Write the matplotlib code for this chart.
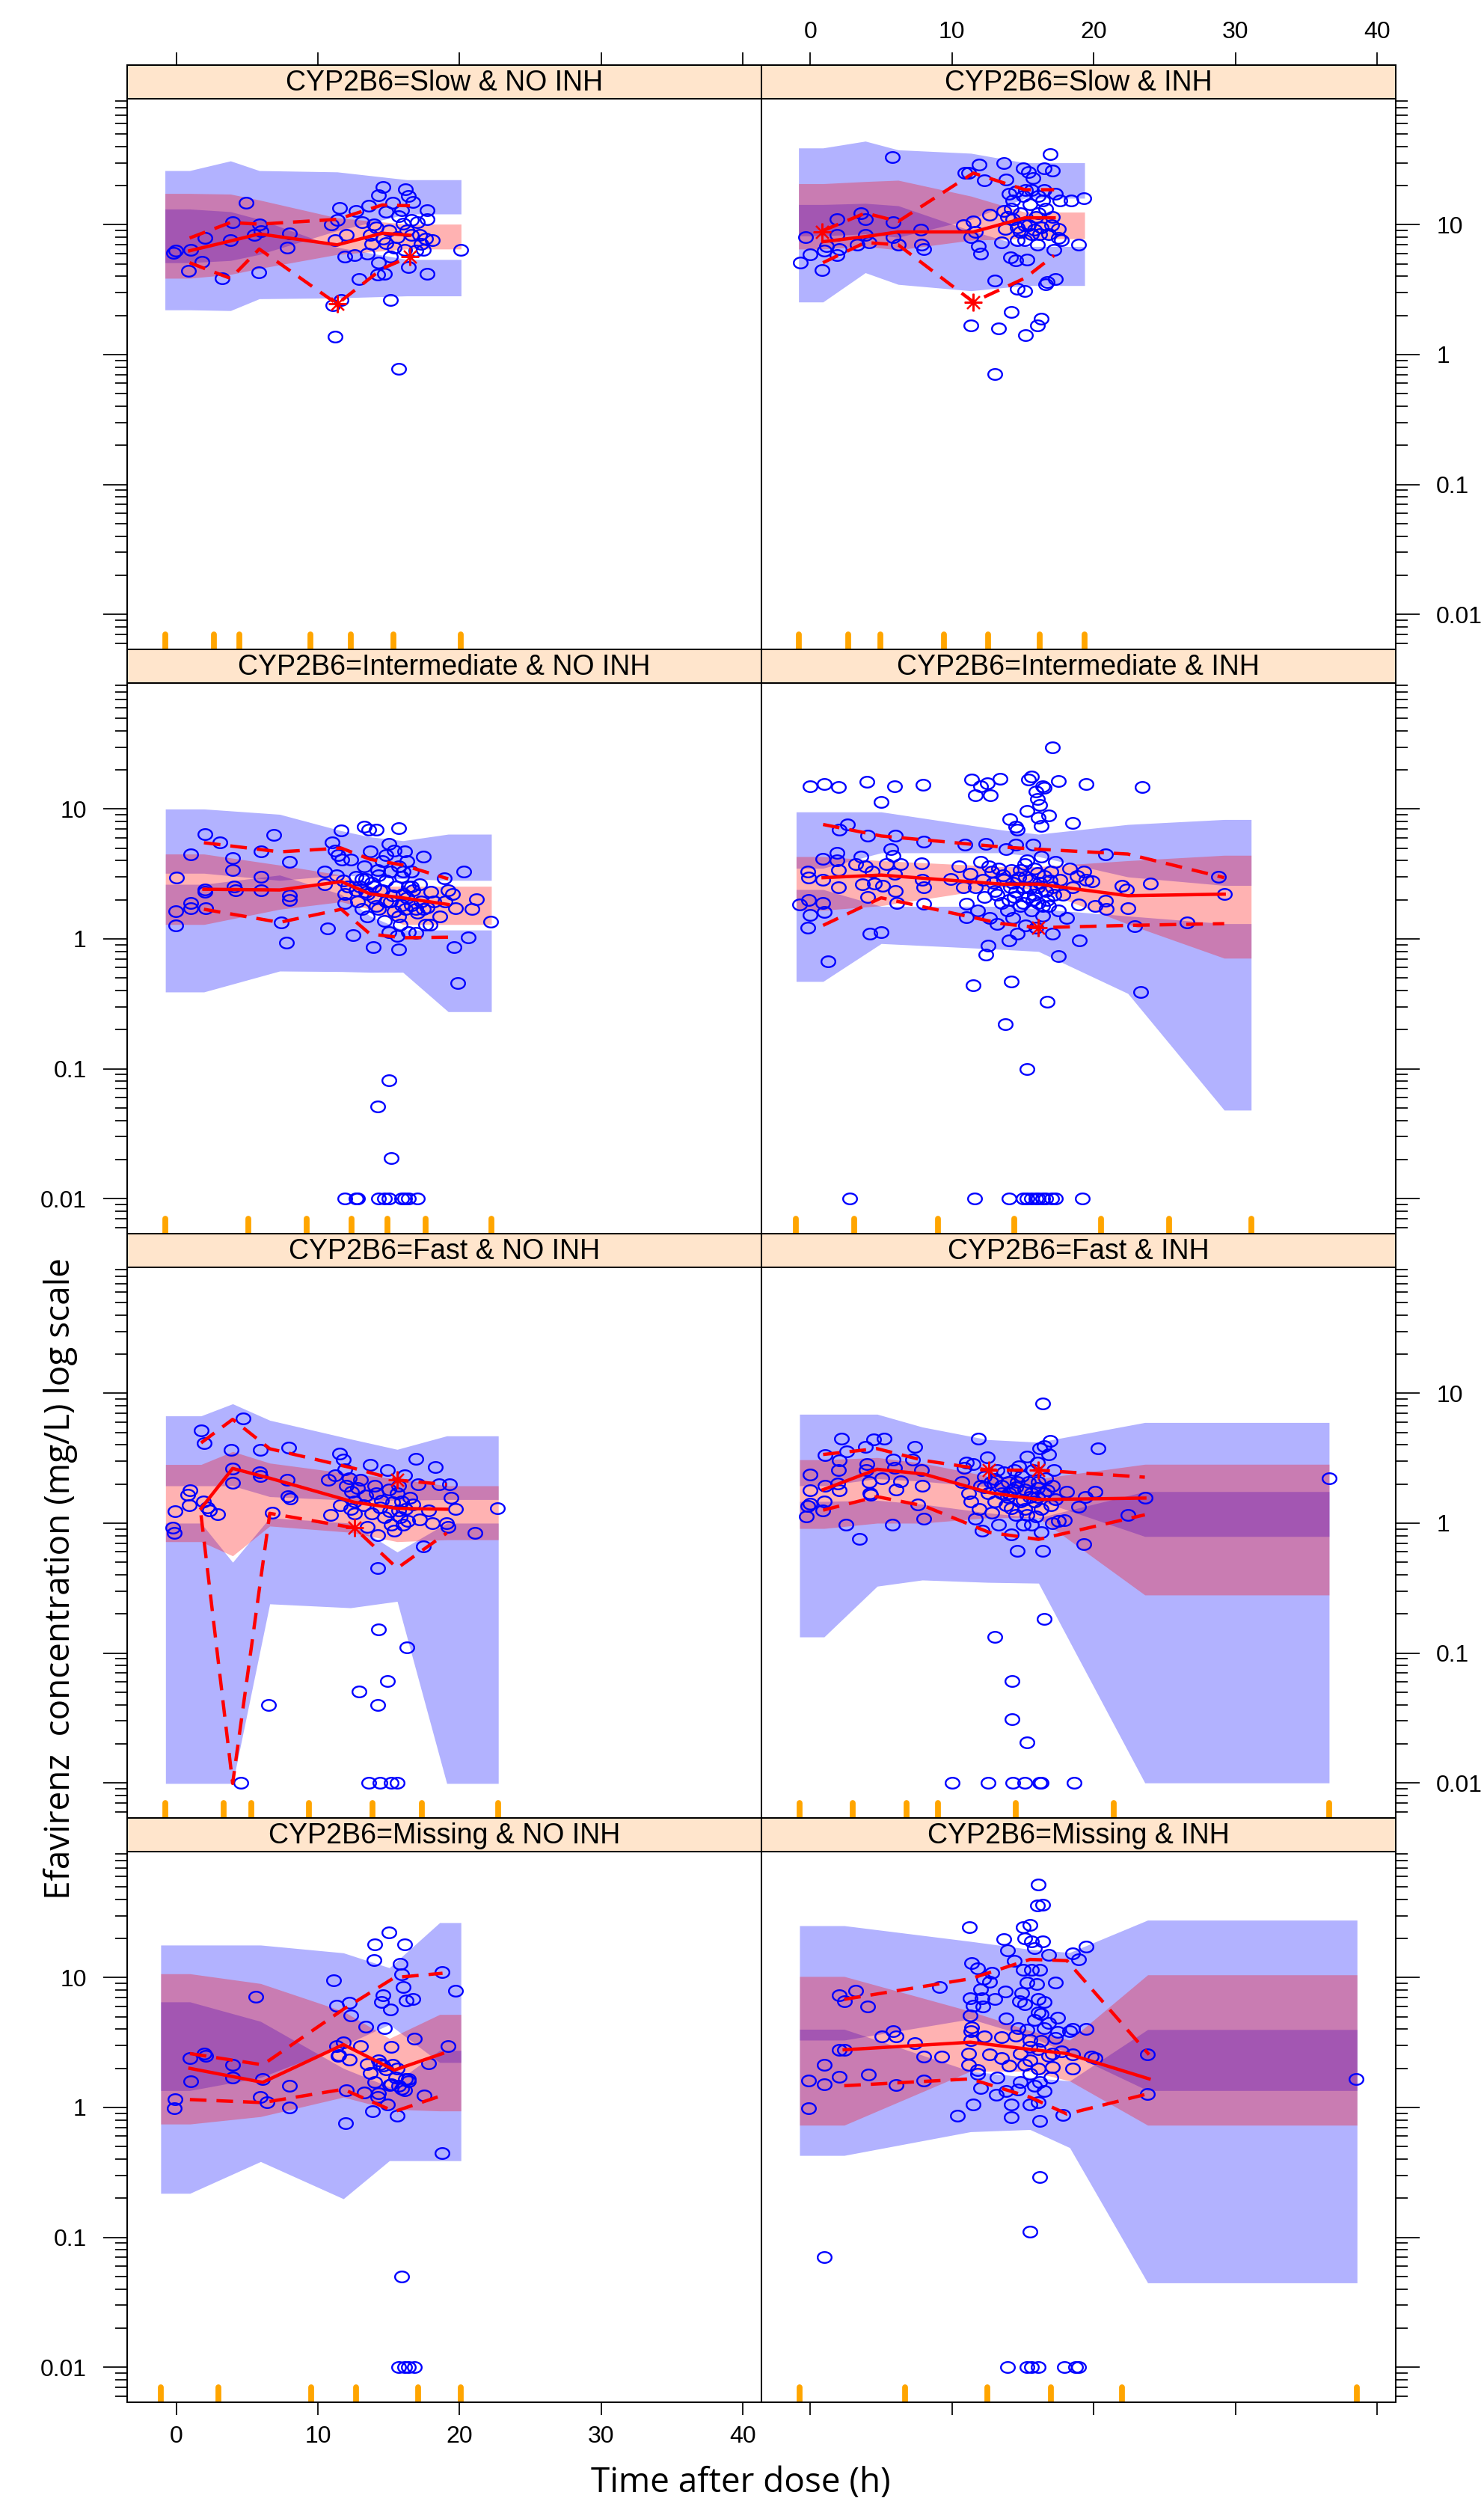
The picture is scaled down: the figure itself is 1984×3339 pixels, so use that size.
import numpy as np
import matplotlib.pyplot as plt
from matplotlib.path import Path
from matplotlib.ticker import FixedLocator, FixedFormatter, LogLocator, NullFormatter

plt.rcParams['font.family'] = ['Liberation Sans', 'DejaVu Sans']

# ---------------- data (time h, concentration mg/L) ----------------
titles = ['CYP2B6=Slow & NO INH', 'CYP2B6=Slow & INH',
          'CYP2B6=Intermediate & NO INH', 'CYP2B6=Intermediate & INH',
          'CYP2B6=Fast & NO INH', 'CYP2B6=Fast & INH',
          'CYP2B6=Missing & NO INH', 'CYP2B6=Missing & INH']

x_ticks = [0, 10, 20, 30, 40]
y_ticks = [0.01, 0.1, 1, 10]
y_labels = ['0.01', '0.1', '1', '10']

# --- Slow & NO INH
s0_obs = [(-0.22, 6.07), (-0.02, 6.28), (1.0, 6.37), (0.88, 4.43), (1.81, 5.2), (2.01, 7.9), (3.26, 3.86),
          (3.98, 10.4), (3.83, 7.6), (4.93, 14.8), (5.51, 8.4), (5.86, 10.1), (6.0, 8.9), (5.8, 4.3), (7.83, 6.7),
          (7.97, 8.6), (10.93, 10.1), (11.07, 2.4), (11.22, 1.38), (11.22, 7.6), (11.36, 10.9), (11.51, 13.5),
          (11.65, 2.63), (11.88, 5.7), (12.0, 8.4), (12.6, 5.8), (12.7, 12.8), (12.9, 3.8), (13.1, 10.4),
          (13.5, 6.0), (13.6, 14.0), (13.7, 8.3), (13.8, 7.1), (13.97, 10.1), (14.1, 9.5), (14.2, 4.14),
          (14.3, 16.8), (14.3, 5.1), (14.6, 19.4), (14.6, 7.8), (14.7, 4.2), (14.8, 12.6), (14.8, 7.2), (15.0, 9.0),
          (15.1, 2.63), (15.1, 5.7), (15.3, 14.7), (15.4, 6.7), (15.6, 8.0), (15.7, 11.7), (15.9, 13.0),
          (16.0, 10.2), (16.1, 6.4), (16.2, 18.8), (16.3, 9.0), (16.4, 16.6), (16.4, 4.7), (16.6, 10.9),
          (16.6, 8.3), (16.7, 15.0), (16.9, 6.3), (17.0, 10.4), (17.2, 8.3), (17.3, 7.1), (17.45, 6.4),
          (17.6, 7.8), (17.7, 11.1), (17.7, 13.0), (17.7, 4.2), (18.1, 7.6), (20.1, 6.4), (15.7, 0.78)]
s0_bins = [-0.8, 2.65, 4.47, 9.48, 12.32, 15.36, 20.11]
s0_bx = [-0.8, 0.94, 3.83, 5.86, 11.36, 16.29, 20.11]
s0_hi_up = [26.1, 26.1, 31, 26.1, 25.5, 22.2, 22.2]
s0_hi_lo = [5.1, 5.1, 5.3, 5.9, 9.0, 12.1, 12.1]
s0_md_up = [17.4, 17.4, 17.2, 15.5, 11.3, 10.1, 10.1]
s0_md_lo = [3.87, 3.87, 4.14, 4.6, 5.9, 6.5, 6.5]
s0_lo_up = [13.2, 13.2, 12.6, 11.0, 6.7, 5.4, 5.4]
s0_lo_lo = [2.21, 2.21, 2.18, 2.69, 2.73, 2.83, 2.83]
s0_ox = [0.94, 3.83, 5.86, 11.36, 14.55, 16.5]
s0_p50 = [6.3, 7.5, 8.5, 7.0, 8.6, 8.3]
s0_p95 = [7.9, 10.4, 10.1, 11.0, 14.2, 14.0]
s0_p05 = [5.1, 3.86, 6.5, 2.45, 4.6, 5.66]
s0_stars = [(11.36, 2.45), (16.5, 5.66)]

# --- Slow & INH
s1_obs = [(-0.7, 5.1), (-0.33, 8.0), (-0.03, 5.9), (0.83, 4.5), (0.99, 6.3), (1.16, 6.8), (1.89, 11.0),
          (1.89, 8.4), (1.89, 5.8), (2.05, 6.5), (3.28, 7.0), (3.55, 12.3), (3.88, 11.0), (3.88, 8.4), (4.14, 7.3),
          (5.8, 33), (5.86, 10.5), (5.86, 8.0), (6.2, 7.0), (7.8, 9.1), (7.85, 7.0), (8.0, 6.5), (10.8, 9.9),
          (10.9, 25), (11.17, 25), (11.33, 1.67), (11.33, 8.0), (11.5, 10.6), (11.66, 8.8), (11.83, 6.8),
          (11.9, 29), (12.0, 6.0), (12.26, 22), (12.66, 11.9), (13.0, 3.7), (13.3, 1.58), (13.5, 7.3),
          (13.65, 30), (13.65, 12.8), (13.75, 9.3), (13.8, 22.4), (14.0, 17.2), (14.1, 5.6), (14.2, 2.14),
          (14.3, 15.4), (14.5, 5.3), (14.5, 17.9), (14.6, 7.6), (14.6, 3.2), (14.8, 12.3), (15.0, 27), (15.1, 3.1),
          (15.1, 9.9), (15.2, 18.6), (15.2, 1.42), (15.3, 5.4), (15.4, 25.6), (15.5, 14.3), (15.6, 8.5),
          (15.7, 23), (15.9, 11.4), (16.0, 7.0), (16.0, 1.67), (16.1, 16.6), (16.3, 1.9), (16.3, 9.5),
          (16.5, 18.6), (16.5, 27), (16.6, 3.5), (16.6, 13.3), (16.7, 3.6), (16.8, 8.5), (16.9, 35), (17.1, 26),
          (17.1, 11.4), (17.2, 6.4), (17.3, 17.2), (17.3, 3.8), (17.5, 7.9), (17.6, 15.4), (17.7, 7.6),
          (18.4, 15.4), (18.9, 7.0), (19.3, 15.9), (13.0, 0.71), (14.15, 13.3), (15.0, 16.6), (15.6, 18.6),
          (16.1, 12.3), (16.4, 15.4), (14.6, 9.5), (15.4, 9.9), (15.8, 9.1), (16.2, 8.5), (17.0, 9.9),
          (17.5, 9.3), (13.9, 11.4), (14.3, 11.0), (14.8, 8.8), (15.1, 7.6)]
s1_bins = [-0.83, 2.65, 4.94, 9.44, 12.56, 16.2, 19.35]
s1_bx = [-0.83, 0.89, 3.88, 6.2, 11.33, 15.14, 19.35]
s1_hi_up = [39, 39, 44, 37.7, 35.5, 30, 30]
s1_hi_lo = [8.2, 8.2, 8.5, 8.0, 11, 16, 16]
s1_md_up = [20.7, 20.7, 21.5, 22, 16.6, 12.5, 12.5]
s1_md_lo = [6.5, 6.5, 6.8, 6.4, 7.6, 7.8, 7.8]
s1_lo_up = [14.3, 14.3, 14.6, 14, 9, 6.8, 6.8]
s1_lo_lo = [2.54, 2.54, 4.27, 3.47, 3.1, 3.4, 3.4]
s1_ox = [0.89, 3.88, 6.2, 11.5, 15.14, 17.2]
s1_p50 = [7.4, 8.1, 8.8, 8.8, 11.3, 11.3]
s1_p95 = [9.0, 12.3, 10.6, 25, 18.6, 18.6]
s1_p05 = [5.1, 7.3, 7.0, 2.54, 3.88, 5.8]
s1_stars = [(0.85, 8.8), (11.5, 2.54)]

# --- Intermediate & NO INH
i0_obs = [(0.01, 2.95), (-0.02, 1.64), (-0.02, 1.27), (1.03, 4.5), (1.03, 1.88), (1.03, 1.72), (2.04, 6.4),
          (2.04, 2.41), (2.04, 2.3), (2.1, 1.73), (3.1, 5.5), (4.0, 4.2), (4.0, 3.4), (4.1, 2.54), (4.2, 2.38),
          (6.0, 4.7), (6.0, 3.0), (6.0, 2.38), (6.9, 6.3), (7.4, 1.34), (7.8, 0.94), (7.97, 3.9), (7.97, 2.15),
          (7.97, 2.0), (10.5, 3.3), (10.5, 2.63), (10.7, 1.21), (11.0, 5.5), (11.2, 4.8), (11.3, 3.1), (11.4, 4.4),
          (11.65, 6.8), (11.7, 4.1), (11.8, 2.82), (11.9, 2.22), (11.9, 1.88), (12.1, 2.54), (12.3, 4.1),
          (12.5, 1.07), (12.7, 3.0), (12.8, 1.94), (12.96, 2.54), (13.1, 1.69), (13.25, 7.3), (13.3, 3.6),
          (13.4, 2.3), (13.5, 1.48), (13.6, 6.9), (13.7, 4.7), (13.8, 2.72), (13.9, 0.86), (13.97, 2.07),
          (14.1, 6.9), (14.2, 3.4), (14.3, 1.69), (14.3, 3.1), (14.4, 2.38), (14.55, 3.95), (14.7, 1.38),
          (14.8, 1.94), (14.8, 2.82), (15.0, 1.13), (15.0, 5.4), (15.1, 3.3), (15.3, 2.15), (15.4, 4.8),
          (15.4, 1.64), (15.5, 2.54), (15.6, 1.05), (15.7, 3.6), (15.7, 7.1), (15.7, 0.83), (15.8, 1.29),
          (15.9, 1.81), (15.9, 3.0), (16.0, 2.22), (16.1, 4.7), (16.2, 1.69), (16.3, 3.95), (16.4, 2.54),
          (16.4, 1.13), (16.6, 3.3), (16.6, 1.81), (16.7, 2.38), (16.9, 1.11), (17.0, 1.58), (17.2, 2.63),
          (17.3, 1.94), (17.45, 4.3), (17.6, 1.29), (17.7, 1.75), (17.9, 1.29), (18.0, 2.3), (18.2, 1.94),
          (18.6, 1.48), (18.9, 2.91), (19.0, 1.94), (19.2, 2.38), (19.5, 2.22), (19.6, 0.86), (19.7, 1.72),
          (19.85, 0.46), (20.3, 3.3), (20.6, 1.03), (20.9, 1.69), (21.2, 2.03), (22.2, 1.36),
          (13.4, 2.9), (13.97, 2.54), (14.55, 2.38), (15.1, 1.94), (16.3, 2.07), (16.9, 1.69), (14.1, 1.8),
          (14.8, 4.4), (13.5, 2.22), (16.6, 2.54), (15.7, 1.48), (17.45, 1.69), (12.7, 2.38), (13.1, 2.9),
          (16.0, 3.3), (15.0, 0.081), (14.2, 0.051), (15.2, 0.0204),
          (11.9, 0.01), (12.7, 0.01), (12.8, 0.01), (14.3, 0.01), (14.7, 0.01), (15.0, 0.01), (15.9, 0.01),
          (16.1, 0.01), (16.4, 0.01), (17.0, 0.01)]
i0_bins = [-0.77, 5.08, 9.22, 12.38, 14.9, 17.6, 22.25]
i0_bx = [-0.77, 1.95, 7.3, 11.65, 13.68, 16.0, 19.2, 22.25]
i0_hi_up = [10, 10, 9.1, 6.8, 6.1, 5.7, 6.4, 6.4]
i0_hi_lo = [3.2, 3.2, 2.82, 3.1, 3.0, 2.9, 2.82, 2.82]
i0_md_up = [4.5, 4.5, 3.7, 3.1, 2.54, 2.54, 2.54, 2.54]
i0_md_lo = [1.29, 1.29, 1.69, 1.93, 1.69, 1.29, 1.29, 1.29]
i0_lo_up = [2.63, 2.63, 3.1, 2.2, 1.5, 1.17, 1.17, 1.17]
i0_lo_lo = [0.39, 0.39, 0.565, 0.56, 0.553, 0.553, 0.275, 0.275]
i0_ox = [1.95, 7.3, 11.65, 13.68, 16.0, 19.2]
i0_p50 = [2.41, 2.38, 2.76, 2.22, 2.07, 1.84]
i0_p95 = [5.5, 4.68, 5.0, 4.1, 3.7, 2.9]
i0_p05 = [1.69, 1.34, 1.69, 1.09, 1.02, 1.03]
i0_stars = []

# --- Intermediate & INH
i1_obs = [(-0.03, 15.0), (0.99, 15.5), (1.99, 14.7), (3.98, 16.1), (5.96, 15.0), (7.95, 15.3), (4.97, 11.3),
          (11.4, 16.8), (11.66, 12.8), (12.0, 15.0), (12.5, 15.7), (12.7, 12.8), (13.4, 17.0), (15.4, 16.8),
          (15.6, 17.8), (15.9, 13.6), (16.0, 12.0), (16.2, 10.7), (16.4, 15.0), (16.5, 14.5), (16.8, 8.9),
          (16.1, 8.6), (17.5, 16.4), (19.45, 15.6), (23.4, 14.8), (17.1, 30), (15.3, 9.7), (14.05, 8.3),
          (18.5, 7.8), (2.6, 7.6), (14.6, 6.9), (14.5, 7.3), (16.3, 7.4),
          (-0.76, 1.84), (-0.17, 3.3), (-0.1, 2.96), (-0.1, 2.0), (-0.17, 1.22), (-0.03, 1.53), (0.89, 4.15),
          (0.89, 2.86), (0.89, 1.88), (0.99, 1.61), (1.23, 0.67), (1.89, 4.6), (1.89, 4.0), (1.99, 3.4),
          (1.99, 2.5), (2.05, 6.9), (3.2, 3.75), (3.55, 4.3), (3.7, 2.64), (3.9, 3.6), (4.04, 6.2), (4.04, 2.1),
          (4.2, 1.09), (4.37, 3.3), (4.5, 2.67), (5.0, 1.13), (5.1, 2.58), (5.37, 3.75), (5.7, 4.9),
          (5.86, 4.35), (5.93, 3.16), (6.0, 6.2), (6.0, 2.33), (6.1, 1.9), (6.36, 3.75), (7.85, 3.8), (7.9, 2.86),
          (8.0, 5.6), (8.0, 2.5), (8.0, 1.87), (9.9, 2.9), (10.5, 3.6), (10.8, 2.5), (10.9, 5.3), (11.0, 1.87),
          (11.0, 1.47), (11.3, 3.16), (11.5, 0.44), (11.66, 2.5), (11.8, 1.66), (12.0, 3.9), (12.16, 2.86),
          (12.3, 2.1), (12.36, 0.76), (12.4, 5.4), (12.56, 0.89), (12.66, 1.45), (12.8, 3.3), (13.0, 2.33),
          (13.15, 1.31), (13.3, 3.5), (13.5, 1.9), (13.65, 2.86), (13.75, 0.22), (13.8, 4.9), (13.9, 1.66),
          (14.0, 0.97), (14.1, 2.5), (14.15, 3.4), (14.2, 0.47), (14.3, 1.45), (14.4, 2.1), (14.5, 5.3),
          (14.6, 1.1), (14.7, 2.96), (14.8, 1.78), (15.0, 2.5), (15.1, 3.75), (15.2, 1.27), (15.3, 0.10),
          (15.4, 2.1), (15.5, 2.86), (15.6, 1.66), (15.7, 5.3), (15.8, 3.5), (15.9, 1.22), (16.0, 2.5),
          (16.1, 1.9), (16.3, 4.3), (16.4, 1.5), (16.5, 3.05), (16.6, 2.33), (16.7, 0.33), (16.8, 1.78),
          (16.96, 3.3), (17.06, 1.1), (17.1, 2.5), (17.3, 3.9), (17.5, 1.66), (17.5, 0.74), (17.6, 2.86),
          (17.8, 2.18), (18.1, 1.45), (18.3, 3.5), (18.5, 2.5), (18.8, 3.05), (18.95, 1.84), (19.0, 0.97),
          (19.3, 3.3), (19.45, 2.86), (19.9, 2.76), (20.1, 1.78), (20.8, 4.5), (20.8, 1.97), (20.9, 1.69),
          (22.0, 2.58), (22.3, 2.41), (22.4, 1.73), (22.9, 1.25), (23.3, 0.39), (24.0, 2.67), (26.6, 1.33),
          (28.8, 3.0), (29.2, 2.22),
          (14.5, 2.3), (15.2, 3.0), (15.8, 2.2), (16.2, 2.7), (14.8, 3.4), (16.7, 2.0), (15.0, 1.9),
          (15.5, 2.45), (16.0, 3.2), (14.3, 2.7), (13.6, 3.1), (12.9, 2.7), (16.9, 2.8), (17.2, 2.2),
          (15.3, 4.0), (14.0, 2.0), (16.4, 1.8), (15.7, 2.0), (13.2, 2.2), (12.6, 3.6),
          (2.8, 0.01), (11.6, 0.01), (14.0, 0.01), (15.0, 0.01), (15.3, 0.01), (15.6, 0.01), (15.9, 0.01),
          (16.1, 0.01), (16.4, 0.01), (16.6, 0.01), (17.0, 0.01), (17.3, 0.01), (19.2, 0.01)]
i1_bins = [-1.0, 3.1, 9.0, 14.4, 20.5, 25.3, 31.1]
i1_bx = [-1.0, 0.9, 5.0, 13.5, 16.1, 22.4, 29.2, 31.1]
i1_hi_up = [9.5, 9.5, 9.5, 6.9, 6.4, 7.6, 8.3, 8.3]
i1_hi_lo = [3.5, 3.5, 4.6, 4.6, 4.3, 3.0, 2.58, 2.58]
i1_md_up = [4.3, 4.3, 4.0, 3.6, 3.6, 4.0, 4.4, 4.4]
i1_md_lo = [1.66, 1.66, 1.8, 2.5, 2.4, 1.3, 0.71, 0.71]
i1_lo_up = [2.4, 2.4, 1.78, 1.78, 1.7, 1.5, 1.31, 1.31]
i1_lo_lo = [0.47, 0.47, 0.92, 0.83, 0.80, 0.38, 0.048, 0.048]
i1_ox = [0.9, 5.0, 13.5, 16.1, 22.4, 29.2]
i1_p50 = [2.96, 3.1, 2.64, 2.64, 2.15, 2.21]
i1_p95 = [7.6, 6.2, 5.1, 4.9, 4.5, 2.96]
i1_p05 = [1.27, 2.07, 1.31, 1.22, 1.27, 1.31]
i1_stars = [(16.1, 1.22)]

# --- Fast & NO INH
f0_obs = [(-0.24, 0.92), (-0.14, 0.84), (-0.07, 1.23), (0.79, 1.66), (0.96, 1.78), (0.89, 1.37), (1.75, 5.2),
          (1.99, 4.15), (1.92, 1.47), (2.16, 1.32), (2.34, 1.26), (2.92, 1.17), (3.88, 3.66), (3.98, 2.64),
          (3.98, 2.05), (4.74, 6.4), (5.87, 2.47), (5.94, 3.66), (5.94, 2.3), (6.8, 1.21), (7.83, 2.15),
          (7.94, 3.8), (7.9, 1.61), (8.04, 1.55), (10.75, 2.15), (10.9, 1.15), (11.2, 2.35), (11.54, 3.44),
          (11.8, 3.1), (11.9, 2.59), (11.6, 1.37), (12.0, 1.94), (12.2, 2.22), (12.3, 1.28), (12.4, 1.75),
          (12.6, 1.47), (12.6, 1.19), (12.8, 1.87), (13.0, 2.15), (13.2, 1.37), (13.4, 1.63), (13.5, 0.935),
          (13.7, 2.83), (13.8, 1.19), (14.0, 1.94), (14.1, 1.71), (14.2, 0.81), (14.2, 0.45), (14.4, 1.32),
          (14.5, 1.49), (14.7, 1.11), (14.9, 2.55), (15.0, 1.81), (15.05, 1.23), (15.2, 0.97), (15.3, 1.45),
          (15.4, 0.87), (15.6, 1.69), (15.7, 1.26), (15.7, 1.94), (15.8, 1.11), (15.9, 1.47), (16.0, 0.97),
          (16.1, 2.33), (16.2, 1.28), (16.35, 1.04), (16.5, 1.57), (16.7, 1.39), (16.9, 3.14), (17.1, 1.98),
          (17.2, 1.07), (17.45, 0.66), (17.8, 1.26), (18.1, 1.0), (18.3, 2.7), (18.55, 2.0), (19.1, 1.0),
          (19.2, 0.935), (19.3, 2.0), (19.4, 1.57), (19.7, 1.29), (21.1, 0.84), (22.7, 1.31),
          (14.26, 0.151), (16.3, 0.111), (12.9, 0.0506), (14.9, 0.0605), (14.2, 0.04), (6.5, 0.04),
          (4.57, 0.01), (13.6, 0.01), (14.4, 0.01), (15.2, 0.01), (15.6, 0.01)]
f0_bins = [-0.76, 3.37, 5.29, 9.38, 13.84, 17.35, 22.74]
f0_bx = [-0.76, 1.75, 3.98, 6.6, 12.3, 15.6, 19.1, 22.74]
f0_hi_up = [6.7, 6.7, 8.3, 6.2, 4.45, 3.7, 4.7, 4.7]
f0_hi_lo = [1.94, 1.94, 1.94, 1.6, 1.5, 1.5, 1.52, 1.52]
f0_md_up = [2.83, 2.83, 3.56, 2.9, 2.4, 2.2, 1.94, 1.94]
f0_md_lo = [0.72, 0.72, 0.56, 0.95, 0.85, 0.72, 0.745, 0.745]
f0_lo_up = [1.0, 1.0, 0.50, 1.1, 1.0, 0.6, 1.0, 1.0]
f0_lo_lo = [0.0099, 0.0099, 0.0099, 0.239, 0.223, 0.25, 0.0099, 0.0099]
f0_ox = [1.75, 3.98, 6.6, 12.57, 15.6, 19.1]
f0_p50 = [1.30, 2.64, 2.22, 1.45, 1.30, 1.28]
f0_p95 = [4.15, 6.3, 3.74, 2.64, 2.15, 1.98]
f0_p05 = [1.15, 0.0099, 1.19, 0.92, 0.45, 0.84]
f0_stars = [(12.57, 0.92), (15.6, 2.15)]

# --- Fast & INH
f1_obs = [(-0.27, 1.13), (-0.17, 1.36), (-0.03, 1.42), (0.0, 2.36), (0.0, 1.79), (0.89, 1.26), (0.96, 1.47),
          (1.06, 3.33), (1.06, 1.94), (1.95, 2.01), (1.99, 2.56), (2.05, 3.04), (2.05, 1.79), (2.22, 4.5),
          (2.49, 0.97), (2.55, 3.57), (3.45, 0.76), (3.88, 3.88), (3.94, 2.56), (3.98, 2.84), (4.14, 2.08),
          (4.2, 1.69), (4.27, 1.66), (4.47, 4.4), (5.04, 2.23), (5.2, 4.5), (5.8, 0.97), (5.86, 3.08),
          (5.93, 2.65), (6.03, 1.81), (6.36, 2.11), (7.19, 3.1), (7.36, 3.88), (7.59, 1.39), (7.85, 2.56),
          (7.92, 1.94), (8.02, 1.08), (10.67, 2.08), (10.84, 2.65), (11.0, 2.94), (11.17, 1.69), (11.33, 1.47),
          (11.5, 2.84), (11.66, 1.08), (11.83, 4.46), (11.9, 1.28), (12.0, 1.94), (12.1, 0.88), (12.26, 2.26),
          (12.5, 3.2), (12.56, 1.69), (12.76, 2.08), (12.8, 1.2), (13.0, 1.47), (13.15, 2.56), (13.3, 0.97),
          (13.5, 1.94), (13.65, 2.47), (13.8, 1.37), (13.9, 1.58), (13.98, 2.08), (14.15, 0.82), (14.3, 1.81),
          (14.4, 2.56), (14.5, 1.16), (14.6, 0.61), (14.6, 2.08), (14.7, 2.74), (14.8, 1.47), (15.0, 0.97),
          (15.1, 1.81), (15.1, 1.28), (15.3, 3.27), (15.4, 2.08), (15.5, 1.58), (15.6, 0.97), (15.7, 2.56),
          (15.8, 1.47), (15.9, 1.12), (16.0, 1.87), (16.04, 2.94), (16.1, 2.08), (16.2, 3.75), (16.3, 1.28),
          (16.3, 0.85), (16.4, 0.61), (16.5, 3.94), (16.5, 1.69), (16.6, 2.23), (16.8, 3.38), (16.9, 4.3),
          (16.96, 1.37), (17.06, 1.94), (17.1, 1.0), (17.2, 2.56), (17.3, 1.52), (17.5, 1.04), (17.9, 1.05),
          (18.1, 1.75), (18.9, 1.33), (19.3, 0.69), (19.4, 1.58), (20.1, 1.75), (20.3, 3.75), (22.4, 1.16),
          (23.6, 1.56), (36.6, 2.23), (16.4, 8.3),
          (14.0, 1.7), (14.9, 2.3), (15.6, 1.7), (15.0, 1.5), (13.5, 1.7), (16.0, 1.6), (14.5, 1.9),
          (15.3, 1.15), (13.0, 2.2), (12.3, 1.9), (16.7, 1.8), (14.2, 1.3),
          (16.5, 0.182), (13.0, 0.133), (14.25, 0.061), (14.25, 0.031), (15.3, 0.0205),
          (10.0, 0.01), (12.56, 0.01), (14.3, 0.01), (15.1, 0.01), (16.2, 0.01), (16.3, 0.01), (18.6, 0.01)]
f1_bins = [-0.76, 2.98, 6.79, 9.0, 14.5, 21.4, 36.6]
f1_bx = [-0.76, 0.97, 4.72, 7.9, 12.5, 16.1, 23.6, 36.6]
f1_hi_up = [6.9, 6.9, 6.9, 5.5, 4.4, 4.2, 5.96, 5.96]
f1_hi_lo = [1.94, 1.94, 2.2, 2.1, 1.9, 1.5, 0.79, 0.79]
f1_md_up = [3.08, 3.08, 3.2, 2.9, 2.3, 2.2, 2.84, 2.84]
f1_md_lo = [0.91, 0.91, 1.0, 1.0, 1.1, 1.1, 0.28, 0.28]
f1_lo_up = [1.47, 1.47, 1.5, 1.4, 1.2, 1.1, 1.75, 1.75]
f1_lo_lo = [0.133, 0.133, 0.327, 0.365, 0.35, 0.345, 0.01, 0.01]
f1_ox = [0.9, 4.7, 8.0, 12.6, 16.1, 23.6]
f1_p50 = [1.81, 2.6, 2.39, 1.72, 1.52, 1.56]
f1_p95 = [3.38, 3.75, 3.04, 2.56, 2.56, 2.26]
f1_p05 = [1.26, 1.6, 1.36, 0.85, 0.75, 1.16]
f1_stars = [(12.6, 2.56), (16.1, 2.56)]

# --- Missing & NO INH
m0_obs = [(-0.14, 0.99), (-0.07, 1.15), (0.96, 2.4), (1.03, 1.59), (1.99, 2.6), (2.1, 2.5), (3.99, 2.13),
          (3.99, 1.71), (5.6, 7.1), (5.95, 1.21), (6.1, 1.66), (6.4, 1.09), (8.0, 1.46), (8.0, 1.0), (11.1, 9.5),
          (11.3, 6.1), (11.3, 2.98), (11.4, 2.5), (11.5, 2.54), (11.8, 3.17), (11.96, 0.76), (12.0, 1.35),
          (12.2, 6.4), (12.3, 5.1), (12.2, 2.34), (13.0, 2.98), (13.4, 4.2), (13.3, 1.31), (13.5, 2.17),
          (13.7, 1.85), (13.85, 0.93), (13.95, 13.7), (14.0, 18.1), (14.0, 1.56), (14.2, 1.21), (14.3, 1.28),
          (14.4, 2.17), (14.5, 6.5), (14.6, 7.3), (14.7, 4.1), (14.8, 1.97), (14.9, 1.05), (15.0, 22.2),
          (15.05, 1.49), (15.1, 5.7), (15.2, 2.93), (15.3, 2.13), (15.5, 1.71), (15.6, 0.86), (15.7, 1.46),
          (15.8, 12.7), (15.9, 10.6), (16.0, 8.5), (16.1, 1.35), (16.15, 18.1), (16.25, 6.7), (16.4, 1.58),
          (16.4, 1.66), (16.7, 6.8), (16.8, 3.4), (17.5, 1.24), (17.8, 2.19), (18.76, 11.0), (18.76, 0.445),
          (19.2, 2.98), (19.7, 7.9), (15.2, 1.5), (15.6, 2.0), (14.6, 2.1), (16.2, 1.65), (15.9, 1.4),
          (14.3, 2.3), (15.9, 0.05),
          (15.7, 0.01), (16.1, 0.01), (16.4, 0.01), (16.8, 0.01)]
m0_bins = [-1.1, 2.99, 9.55, 12.68, 17.1, 20.1]
m0_bx = [-1.1, 0.96, 5.95, 11.8, 15.05, 18.6, 20.1]
m0_hi_up = [17.8, 17.8, 17.8, 15.5, 11.9, 26.5, 26.5]
m0_hi_lo = [1.35, 1.35, 1.7, 3.0, 4.35, 2.22, 2.22]
m0_md_up = [10.7, 10.7, 9.0, 5.5, 3.4, 5.2, 5.2]
m0_md_lo = [0.745, 0.745, 0.85, 1.2, 0.97, 0.94, 0.94]
m0_lo_up = [6.5, 6.5, 4.6, 2.0, 1.44, 2.75, 2.75]
m0_lo_lo = [0.218, 0.218, 0.383, 0.198, 0.389, 0.389, 0.389]
m0_ox = [0.96, 6.1, 11.8, 15.4, 18.8]
m0_p50 = [2.0, 1.56, 3.05, 1.94, 2.6]
m0_p95 = [2.6, 2.13, 5.7, 10.0, 10.8]
m0_p05 = [1.15, 1.09, 1.38, 0.93, 1.24]
m0_stars = []

# --- Missing & INH
m1_obs = [(16.1, 52), (16.0, 36), (16.4, 36.5), (11.2, 24.5), (15.0, 24.5), (15.5, 25.5), (15.1, 20.1),
          (15.6, 19.0), (16.4, 19.0), (13.65, 19.8), (15.8, 16.9), (13.9, 16.2), (16.8, 15.0), (18.5, 15.3),
          (19.45, 17.2), (18.95, 13.9), (11.4, 13.0), (11.8, 11.8), (14.4, 13.5), (15.0, 11.4), (15.6, 11.4),
          (16.2, 11.5), (17.3, 9.1), (12.8, 10.9), (12.2, 9.8), (12.66, 9.3), (9.1, 8.5), (12.0, 8.1),
          (13.75, 7.8), (15.3, 9.1), (15.97, 8.9), (3.2, 7.9), (2.05, 7.3), (2.39, 6.6), (4.04, 6.0),
          (12.1, 6.9), (11.3, 6.9), (12.16, 6.0), (11.5, 6.1), (13.0, 6.8), (14.9, 7.6), (15.1, 6.25),
          (16.1, 6.8), (16.5, 6.5), (14.75, 6.6), (16.07, 5.4), (16.3, 5.25), (11.27, 5.1), (11.4, 4.14),
          (13.8, 4.85), (17.46, 4.9), (15.8, 4.74), (16.8, 4.45), (11.33, 3.88), (14.65, 4.1), (15.3, 3.98),
          (16.5, 4.1), (18.5, 4.04), (19.45, 4.04), (17.46, 3.8), (14.5, 3.59), (15.5, 3.31), (16.3, 3.24),
          (17.3, 3.44), (18.3, 3.88), (5.04, 3.53), (6.03, 3.53), (5.86, 3.88), (12.3, 3.53), (13.5, 3.5),
          (11.33, 3.31), (7.36, 3.13), (15.5, 2.94), (16.1, 2.83), (17.1, 2.61), (2.05, 2.78), (2.39, 2.76),
          (11.17, 2.61), (12.66, 2.55), (13.5, 2.41), (14.8, 2.61), (15.5, 2.32), (16.8, 2.5), (17.7, 2.72),
          (18.5, 2.55), (19.8, 2.45), (20.1, 2.41), (8.0, 2.47), (9.28, 2.47), (0.99, 2.14), (11.17, 2.14),
          (11.8, 1.95), (14.0, 2.1), (15.1, 2.14), (16.1, 1.98), (17.1, 2.05), (18.5, 1.98), (-0.1, 1.62),
          (0.99, 1.5), (2.05, 1.73), (4.1, 1.78), (6.06, 1.49), (8.0, 1.62), (11.8, 1.82), (13.15, 1.69),
          (14.8, 1.56), (15.5, 1.82), (16.2, 1.56), (16.96, 1.69), (12.0, 1.42), (13.1, 1.25), (13.8, 1.33),
          (14.65, 1.38), (15.8, 1.46), (16.5, 1.33), (14.2, 1.05), (15.5, 1.06), (16.1, 1.09), (23.8, 2.55),
          (23.8, 1.27), (-0.1, 0.98), (11.5, 1.05), (10.4, 0.86), (14.2, 0.84), (16.2, 0.79), (17.8, 0.88),
          (16.2, 0.29), (15.5, 0.11), (0.99, 0.070), (38.5, 1.66),
          (13.9, 0.01), (15.3, 0.01), (15.6, 0.01), (16.1, 0.01), (17.9, 0.01), (18.7, 0.01), (18.95, 0.01)]
m1_bins = [-0.76, 6.69, 12.5, 16.96, 21.97, 38.57]
m1_bx = [-0.76, 2.39, 11.3, 15.5, 18.3, 23.8, 38.57]
m1_hi_up = [25.1, 25.1, 19.0, 16.5, 15.6, 27.7, 27.7]
m1_hi_lo = [3.3, 3.3, 4.8, 3.5, 2.6, 1.35, 1.35]
m1_md_up = [10.2, 10.2, 5.5, 3.9, 3.3, 10.5, 10.5]
m1_md_lo = [0.73, 0.73, 1.9, 1.9, 1.6, 0.73, 0.73]
m1_lo_up = [4.0, 4.0, 1.9, 1.7, 1.6, 3.98, 3.98]
m1_lo_lo = [0.427, 0.427, 0.65, 0.676, 0.49, 0.0446, 0.0446]
m1_ox = [2.39, 11.3, 15.5, 18.1, 23.9]
m1_p50 = [2.78, 3.18, 2.8, 2.6, 1.66]
m1_p95 = [6.8, 9.8, 13.8, 13.5, 2.55]
m1_p05 = [1.47, 1.66, 1.2, 0.89, 1.28]
m1_stars = []

# ---------------- assemble ----------------
panels = []
for name in ['s0', 's1', 'i0', 'i1', 'f0', 'f1', 'm0', 'm1']:
    g = globals()
    panels.append({k: g[name + '_' + k] for k in
                   ['obs', 'bins', 'bx', 'hi_up', 'hi_lo', 'md_up', 'md_lo', 'lo_up', 'lo_lo',
                    'ox', 'p50', 'p95', 'p05', 'stars']})

# slightly wide open circle, like the original picture
th = np.linspace(0, 2 * np.pi, 73)
ellipse = Path(np.column_stack([1.28 * np.cos(th), np.sin(th)]), closed=True)

# ---------------- layout (pixels) ----------------
W, H = 1984, 3339
col_x = [170, 1017.6]
col_w = [847.6, 848.4]
row_top0, row_h, strip_h = 87, 781, 45
XLIM = (-3.47, 41.3)
YLIM = (10 ** -2.27, 10 ** 1.97)


def rect(x, ytop, w, h):
    return [x / W, 1 - (ytop + h) / H, w / W, h / H]


fig = plt.figure(figsize=(W / 100, H / 100), dpi=100)
LW = 1.45
TW = 1.25

for k, p in enumerate(panels):
    r, c = divmod(k, 2)
    top = row_top0 + row_h * r
    sax = fig.add_axes(rect(col_x[c], top, col_w[c], strip_h))
    ax = fig.add_axes(rect(col_x[c], top + strip_h, col_w[c], row_h - strip_h))

    # strip
    sax.set_facecolor('#FFE5CC')
    sax.set_xlim(XLIM)
    sax.set_ylim(0, 1)
    sax.set_yticks([])
    sax.text(0.5, 0.47, titles[k], transform=sax.transAxes, ha='center', va='center', fontsize=27)
    for s in sax.spines.values():
        s.set_linewidth(LW)
    if r == 0:
        sax.set_xticks(x_ticks)
        sax.tick_params(axis='x', top=True, bottom=False, labeltop=(c == 1), labelbottom=False,
                        length=12, width=TW, labelsize=23, pad=9, direction='out')
    else:
        sax.set_xticks([])

    # panel
    ax.set_yscale('log')
    ax.set_xlim(XLIM)
    ax.set_ylim(YLIM)
    ax.fill_between(p['bx'], p['hi_lo'], p['hi_up'], color='blue', alpha=0.3, lw=0)
    ax.fill_between(p['bx'], p['lo_lo'], p['lo_up'], color='blue', alpha=0.3, lw=0)
    ax.fill_between(p['bx'], p['md_lo'], p['md_up'], color='red', alpha=0.3, lw=0)

    t, cc = zip(*p['obs'])
    ax.plot(t, cc, ls='none', marker=ellipse, ms=13.4, mfc='none', mec='blue', mew=1.7)

    ax.plot(p['ox'], p['p50'], color='red', lw=3.2)
    ax.plot(p['ox'], p['p95'], color='red', lw=3.2, ls='--', dashes=(5, 3))
    ax.plot(p['ox'], p['p05'], color='red', lw=3.2, ls='--', dashes=(5, 3))
    if p['stars']:
        st, sc = zip(*p['stars'])
        ax.plot(st, sc, ls='none', marker=(8, 2, 0), ms=17, color='red', mew=1.6)

    vl = ax.vlines(p['bins'], 0, 0.027, transform=ax.get_xaxis_transform(), colors='orange', lw=5.6)
    vl.set_capstyle('round')

    for s in ax.spines.values():
        s.set_linewidth(LW)

    ax.set_xticks(x_ticks)
    if r == 3:
        ax.tick_params(axis='x', bottom=True, top=False, labelbottom=(c == 0), labeltop=False,
                       length=12, width=TW, labelsize=23, pad=10, direction='out')
    else:
        ax.tick_params(axis='x', bottom=False, top=False, labelbottom=False, labeltop=False)

    ax.yaxis.set_major_locator(FixedLocator(y_ticks))
    ax.yaxis.set_major_formatter(FixedFormatter(y_labels))
    ax.yaxis.set_minor_locator(LogLocator(base=10, subs=np.arange(2, 10), numticks=20))
    ax.yaxis.set_minor_formatter(NullFormatter())
    lab = r in (1, 3)
    if c == 0:
        ax.tick_params(axis='y', which='both', left=True, right=False, labelleft=lab, labelright=False,
                       direction='out', width=TW, labelsize=23, pad=16)
    else:
        ax.tick_params(axis='y', which='both', left=False, right=True, labelleft=False, labelright=not lab,
                       direction='out', width=TW, labelsize=23, pad=16)
    ax.tick_params(axis='y', which='major', length=23)
    ax.tick_params(axis='y', which='minor', length=11.5)

fig.text(990.5 / W, 1 - 3331 / H, 'Time after dose (h)', ha='center', va='baseline',
         fontsize=33, family=['Open Sans', 'DejaVu Sans'])
fig.text(80.5 / W, 1 - 2110 / H, 'Efavirenz  concentration (mg/L) log scale', rotation=90,
         ha='center', va='center', fontsize=33, family=['Open Sans', 'DejaVu Sans'])

fig.savefig('out.png', dpi=100)
